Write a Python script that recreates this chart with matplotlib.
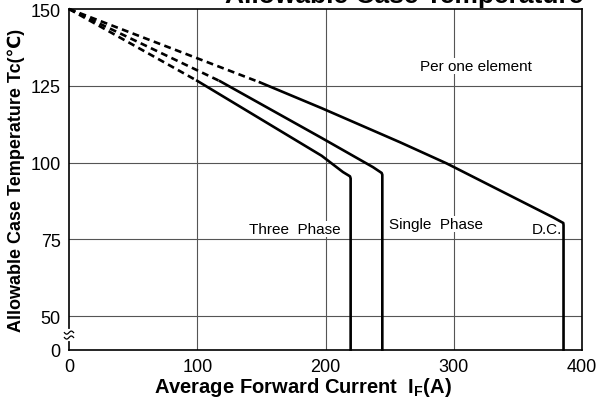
import matplotlib
matplotlib.use("Agg")
import matplotlib.pyplot as plt
import numpy as np

plt.rcParams['font.family'] = ['Liberation Sans', 'DejaVu Sans']
plt.rcParams['mathtext.fontset'] = 'custom'
plt.rcParams['mathtext.rm'] = 'Liberation Sans'
plt.rcParams['mathtext.bf'] = 'Liberation Sans:bold'

# ---- data ----
three_dash_x = [0, 100.0]
three_dash_y = [150, 126.6]
three_x = [100.0, 197.0, 213.6, 219.1, 219.6, 219.6]
three_y = [126.6, 102.2, 96.9, 95.5, 94.8, 0]

single_dash_x = [0, 117.7]
single_dash_y = [150, 126.5]
single_x = [117.7, 197.0, 237.0, 243.8, 244.3, 244.3]
single_y = [126.5, 108.0, 98.5, 96.6, 96.0, 0]

dc_dash_x = [0, 148.9]
dc_dash_y = [150, 126.1]
dc_x = [148.9, 197.0, 258.1, 294.5, 377.6, 385.4, 385.6, 385.6]
dc_y = [126.1, 117.7, 106.6, 99.7, 82.1, 80.3, 79.6, 0]

x_ticks = [0, 100, 200, 300, 400]
y_ticks = [0, 50, 75, 100, 125, 150]

# broken y axis: 0 is drawn just below 50
Y0 = 39.1
def ymap(vals):
    vals = np.asarray(vals, dtype=float)
    return np.where(vals >= 50, vals, Y0 + vals * (50 - Y0) / 50)

fig = plt.figure(figsize=(6.0, 4.06), dpi=100)
ax = fig.add_axes([69/600, 1 - 350.5/406, (582 - 69)/600, (350.5 - 10)/406])

ax.set_xlim(0, 400)
ax.set_ylim(Y0, 150)

# grid
for xv in x_ticks[1:-1]:
    ax.axvline(xv, color='#555555', lw=0.8, zorder=1)
for yv in y_ticks[1:-1]:
    ax.axhline(yv, color='#555555', lw=0.8, zorder=1)

lw = 1.9
dash = (0, (2.6, 1.7))
for dx, dy, sx, sy in [(three_dash_x, three_dash_y, three_x, three_y),
                       (single_dash_x, single_dash_y, single_x, single_y),
                       (dc_dash_x, dc_dash_y, dc_x, dc_y)]:
    ax.plot(dx, ymap(dy), color='black', lw=lw, linestyle=dash, zorder=3,
            solid_capstyle='butt', dash_capstyle='butt', clip_on=False)
    ax.plot(sx, ymap(sy), color='black', lw=lw, zorder=3,
            solid_joinstyle='round', clip_on=False)

# ticks
ax.set_xticks(x_ticks)
ax.set_xticklabels([str(v) for v in x_ticks])
ax.set_yticks(list(ymap(y_ticks)))
ax.set_yticklabels([str(v) for v in y_ticks])
ax.tick_params(length=0, labelsize=13, pad=6)
for sp in ax.spines.values():
    sp.set_linewidth(1.2)
    sp.set_color('black')

# axis break mark on the y axis
trans = ax.get_yaxis_transform()
ax.plot([0, 0], [42.6, 45.0], transform=trans, color='white', lw=3, zorder=5, clip_on=False)
tt = np.linspace(-1, 1, 30)
for yc in (44.6, 43.0):
    xs = tt * 0.009
    ys = yc + 0.5 * np.sin(tt * np.pi)
    ax.plot(xs, ys, transform=trans, color='black', lw=0.9, zorder=6, clip_on=False)

# annotations
bb = dict(facecolor='white', edgecolor='none', pad=0.5)
ax.text(317.4, 131.4, 'Per one element', ha='center', va='center', fontsize=11, bbox=bb, zorder=4)
ax.text(176.2, 78.3, 'Three  Phase', ha='center', va='center', fontsize=11, bbox=bb, zorder=4)
ax.text(285.8, 80.0, 'Single  Phase', ha='center', va='center', fontsize=11, bbox=bb, zorder=4)
ax.text(372.7, 78.3, 'D.C.', ha='center', va='center', fontsize=11, bbox=bb, zorder=2)

ax.set_xlabel(r'Average Forward Current  $\mathbf{I}_{\mathbf{F}}$(A)', fontsize=14.5,
              fontweight='bold')
ax.xaxis.set_label_coords((303 - 69) / 513, -(388 - 350.5) / 340.5)
ax.xaxis.label.set_va('center')
ax.set_ylabel('Allowable Case Temperature Tc(℃)', fontsize=13, fontweight='bold', labelpad=4)

fig.text(583/600, 1 - 3/406, 'Allowable Case Temperature', ha='right', va='baseline',
         fontsize=19, fontweight='bold')

fig.savefig('out.png', dpi=100)
